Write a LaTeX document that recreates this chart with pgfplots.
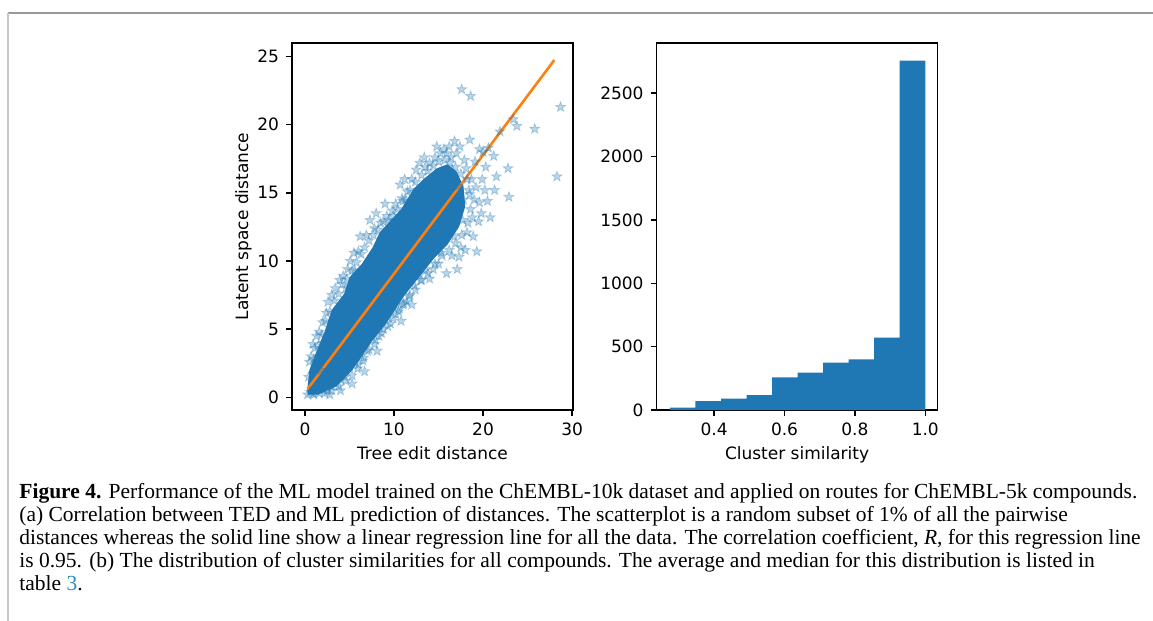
\documentclass[border=0pt]{standalone}
\usepackage{fontspec}
\setmainfont{DejaVu Sans}
\newfontfamily\capfont{Liberation Serif}
\usepackage{pgfplots}
\pgfplotsset{compat=1.18}
\definecolor{tabblue}{HTML}{1F77B4}
\definecolor{taborange}{HTML}{FF7F0E}
\definecolor{linkblue}{HTML}{2E8BC0}

% filled five-pointed star, like matplotlib's '*'
\pgfdeclareplotmark{fstar}{%
  \pgfpathmoveto{\pgfqpointpolar{90}{\pgfplotmarksize}}%
  \pgfpathlineto{\pgfqpointpolar{126}{0.4\pgfplotmarksize}}%
  \pgfpathlineto{\pgfqpointpolar{162}{\pgfplotmarksize}}%
  \pgfpathlineto{\pgfqpointpolar{198}{0.4\pgfplotmarksize}}%
  \pgfpathlineto{\pgfqpointpolar{234}{\pgfplotmarksize}}%
  \pgfpathlineto{\pgfqpointpolar{270}{0.4\pgfplotmarksize}}%
  \pgfpathlineto{\pgfqpointpolar{306}{\pgfplotmarksize}}%
  \pgfpathlineto{\pgfqpointpolar{342}{0.4\pgfplotmarksize}}%
  \pgfpathlineto{\pgfqpointpolar{18}{\pgfplotmarksize}}%
  \pgfpathlineto{\pgfqpointpolar{54}{0.4\pgfplotmarksize}}%
  \pgfpathclose\pgfusepathqfillstroke}

\pgfplotsset{mpl/.style={
  scale only axis, width=140.5pt, height=183.5pt,
  axis line style={line width=0.7pt, black},
  tick align=outside, tick pos=left, major tick length=3pt,
  every tick/.style={black, line width=0.7pt},
  ticklabel style={font=\fontsize{8.5}{10}\selectfont},
  label style={font=\fontsize{8.5}{10}\selectfont},
  /pgf/number format/assume math mode=true,
}}

\begin{document}
\begin{tikzpicture}
\useasboundingbox (0,0) rectangle (576.5pt,-310.5pt);
\draw[gray!80, line width=0.7pt] (4pt,-6.5pt) -- (576.5pt,-6.5pt);
\draw[gray!45, line width=0.7pt] (4pt,-6.5pt) -- (4pt,-310.5pt);

% (a) scatter
\begin{axis}[mpl, at={(146pt,-205pt)}, anchor=south west,
  xmin=-1.45, xmax=30.1, ymin=-0.93, ymax=26.0,
  xtick={0,10,20,30}, ytick={0,5,10,15,20,25},
  xlabel={Tree edit distance}, ylabel={Latent space distance},
  xlabel style={yshift=1.5pt}, ylabel style={yshift=-4pt}]
% saturated core of the point cloud
\addplot[draw=none, fill=tabblue] coordinates {
  (0.3,0.2) (1.5,0.2) (3.5,0.8) (5.2,1.9) (6.4,3.0) (7.5,4.1) (9.0,5.3)
  (10.1,6.4) (11.2,7.5) (12.8,8.8) (14.5,10.2) (16.0,11.2) (17.3,12.5)
  (18.0,14.0) (17.8,15.5) (17.0,16.6) (16.0,17.1) (14.8,16.8) (13.3,16.0)
  (12.2,15.3) (10.8,13.8) (9.5,12.9) (8.4,12.1) (7.6,11.0) (6.4,9.8)
  (5.0,8.8) (4.4,7.6) (3.0,6.4) (2.2,4.8) (1.2,3.2) (0.5,2.0) (0.3,0.8)
} -- cycle;
\addplot[only marks, mark=fstar, mark size=2.6pt,
  mark options={draw=tabblue, fill=tabblue, opacity=0.3, line width=0.4pt}]
  coordinates {
  (0.3,0.2) (0.6,0.4) (0.9,0.3) (1.2,0.5) (1.6,0.3) (2.0,0.6) (2.5,0.5)
  (3.0,0.8) (3.5,1.0) (4.0,1.3) (4.5,1.5) (0.4,1.5) (0.5,2.6) (0.7,3.0)
  (0.9,3.9) (1.3,4.5) (1.1,3.6) (1.6,4.8) (2.0,5.5) (2.4,6.2) (2.6,7.0)
  (3.0,7.5) (3.4,8.0) (3.9,8.6) (4.3,8.9) (4.8,9.4) (5.1,10.0) (5.5,10.6)
  (1.8,2.0) (2.6,1.5) (3.3,2.2) (4.2,2.5) (5.0,2.3) (5.6,2.6) (4.8,3.1)
  (6.0,2.4) (6.5,2.7) (7.0,3.4) (7.4,4.7) (7.8,3.9) (8.3,4.5) (8.8,5.0)
  (9.2,5.9) (9.6,5.4) (10.2,6.1) (10.6,6.5) (11.1,6.9) (11.4,7.0) (11.8,7.5)
  (12.3,8.2) (12.6,9.1) (13.0,8.6) (13.5,9.3) (14.4,9.4) (15.0,9.8)
  (15.9,9.1) (17.1,9.4) (16.5,10.4) (17.5,11.0) (18.2,12.1) (18.9,11.8)
  (19.3,10.7) (19.5,12.9) (19.8,13.5) (20.8,13.2) (21.3,15.2) (21.5,16.2)
  (20.5,14.4) (19.9,16.0) (20.3,16.9) (21.2,17.7) (22.8,16.8) (22.9,14.7)
  (21.9,19.5) (23.4,20.4) (23.8,19.9) (25.8,19.7) (28.7,21.3) (28.3,16.2)
  (17.6,22.6) (18.6,22.1) (18.5,18.9) (19.6,18.2) (19.1,17.3) (20.0,18.0)
  (20.6,18.3)
  (6.2,11.8) (6.9,11.9) (7.3,13.0) (7.8,12.4) (8.5,12.8) (9.2,13.3)
  (9.8,13.7) (10.2,14.2) (10.7,15.6) (11.0,14.4) (11.5,15.1) (12.0,16.0)
  (12.5,16.7) (12.9,17.2) (13.5,16.9) (14.0,17.2) (14.6,17.6) (15.2,17.9)
  (15.9,17.9) (16.4,17.6) (17.0,17.9) (17.4,18.4) (17.9,17.4) (15.6,18.2)
  (16.2,18.4) (6.0,10.7) (5.6,9.3) (4.6,8.0)
  (11.5,13.0) (12.0,14.2) (13.0,15.0) (13.8,15.6) (14.5,16.0) (15.3,16.5)
  (16.5,16.5) (17.2,15.5) (17.8,14.5) (18.4,15.2) (18.7,16.0) (18.1,16.8)
  (17.0,13.8) (16.3,12.5) (15.5,11.8) (14.2,11.0) (13.2,10.0) (19.0,14.5)
  (18.8,13.2) (16.8,11.8) (17.7,13.0) (15.3,10.6)
  (1.0,2.8) (1.5,3.8) (1.9,4.6) (2.3,5.6) (2.8,6.3) (3.3,7.1) (3.8,7.6)
  (4.2,8.3) (4.7,8.7) (5.3,9.3) (5.8,9.9) (6.3,10.5) (6.7,11.0) (7.2,11.5)
  (7.7,11.9) (8.2,12.3) (8.8,12.9) (9.4,13.0) (9.9,13.3) (10.4,13.8)
  (10.9,14.6) (11.3,14.5) (11.8,15.2) (12.4,15.8) (13.1,16.3) (13.8,16.6)
  (14.4,17.0) (15.0,17.3) (15.7,17.4) (16.3,17.2) (16.9,16.9) (17.5,16.4)
  (1.0,0.2) (2.2,0.3) (3.0,0.5) (3.8,0.8) (4.6,1.2) (5.3,1.6) (5.9,2.1)
  (6.6,2.9) (7.2,3.5) (7.9,4.2) (8.6,4.7) (9.3,5.2) (9.9,5.8) (10.5,6.3)
  (11.0,6.8) (11.7,7.4) (12.4,7.9) (13.1,8.6) (13.8,9.1) (14.6,9.8)
  (15.4,10.4) (16.2,10.8) (16.9,11.3) (17.6,11.9) (18.3,12.8) (18.6,13.8)
  (18.5,14.9) (18.2,16.0)
  (2.0,4.0) (1.4,2.6) (8.0,13.5) (9.0,14.2) (11.2,16.0) (10.0,12.5)
  (14.8,18.4) (13.4,17.6) (16.8,18.8) (19.2,15.4) (20.2,15.2) (19.6,14.3)
  (17.3,10.3) (18.0,10.8) (14.0,8.7) (12.0,6.8) (10.8,5.6) (8.1,3.4)
  (6.7,1.9) (5.3,1.0) (4.0,0.5) (2.8,0.2)
};
\addplot[taborange, line width=1.3pt] coordinates {(0.3,0.61) (28.0,24.75)};
\end{axis}

% (b) histogram
\begin{axis}[mpl, at={(328.3pt,-205pt)}, anchor=south west,
  xmin=0.2365, xmax=1.035, ymin=0, ymax=2895,
  xtick={0.4,0.6,0.8,1.0}, xticklabels={0.4,0.6,0.8,1.0},
  ytick={0,500,1000,1500,2000,2500},
  yticklabels={0,500,1000,1500,2000,2500},
  xlabel={Cluster similarity}, xlabel style={yshift=1.5pt}]
\addplot[ybar interval, fill=tabblue, draw=none] coordinates {
  (0.2745,18) (0.347,71) (0.4195,90) (0.492,118) (0.5645,258) (0.637,295)
  (0.7095,374) (0.782,400) (0.8545,571) (0.927,2755) (1.0,2755)
};
\end{axis}

% caption
\tikzset{capline/.style={anchor=base west, inner sep=0pt,
  font=\capfont\fontsize{10.75}{12}\selectfont}}
\node[capline] at (9.5pt,-249pt) {\textbf{Figure 4.} Performance of the ML model trained on the ChEMBL-10k dataset and applied on routes for ChEMBL-5k compounds.};
\node[capline] at (9.5pt,-260.5pt) {(a) Correlation between TED and ML prediction of distances. The scatterplot is a random subset of 1\% of all the pairwise};
\node[capline] at (9.5pt,-272pt) {distances whereas the solid line show a linear regression line for all the data. The correlation coefficient, \textit{R}, for this regression line};
\node[capline] at (9.5pt,-283.5pt) {is 0.95. (b) The distribution of cluster similarities for all compounds. The average and median for this distribution is listed in};
\node[capline] at (9.5pt,-295pt) {table {\color{linkblue}3}.};
\end{tikzpicture}
\end{document}
